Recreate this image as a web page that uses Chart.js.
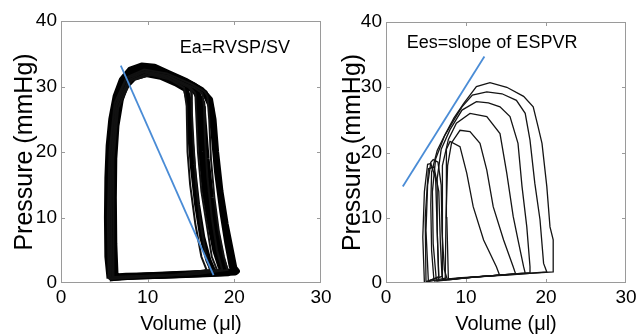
<!DOCTYPE html>
<html><head><meta charset="utf-8">
<script src="https://cdn.jsdelivr.net/npm/chart.js@4"></script>
<style>
html,body{margin:0;padding:0;background:#fff;width:640px;height:336px;overflow:hidden}
#cl{position:absolute;left:0;top:0}
#cr{position:absolute;left:330px;top:0}
</style></head><body>
<canvas id="cl" width="340" height="336"></canvas>
<canvas id="cr" width="310" height="336"></canvas>
<script>
const xTickValues = [0, 10, 20, 30];
const yTickValues = [0, 10, 20, 30, 40];
const xTitle = 'Volume (μl)';
const yTitle = 'Pressure (mmHg)';
const leftNote = 'Ea=RVSP/SV';
const rightNote = 'Ees=slope of ESPVR';

// blue reference lines [volume, pressure]
const eaLine = [[6.9, 33.2], [17.6, 1.2]];
const espvrLine = [[2.1, 14.8], [12.3, 34.7]];

// left panel: overlapping PV cycles (thick band)
const leftCycle1 = [[5.6,0.7],[5.35,4],[5.3,10],[5.35,16],[5.5,21],[5.8,25],[6.3,28.5],[7.0,31],[8.0,32.6],[9.3,33.2],[10.8,33],[12.5,32],[14.5,30.8],[16.2,29.5],[17.2,28],[17.6,25],[17.9,20],[18.4,14],[19.0,9],[19.6,5],[20.0,2.3],[20.3,1.8],[18,1.6],[14,1.4],[10,1.2],[7,0.9],[5.6,0.7]];
const leftCycle2 = [[5.8,0.8],[5.6,5],[5.55,11],[5.6,17],[5.8,22],[6.1,26],[6.7,29.3],[7.5,31.3],[8.6,32.4],[10,32.8],[11.5,32.4],[13.5,31.3],[15.3,30.2],[16.6,29],[17.3,27],[17.6,23],[18,17],[18.6,11],[19.2,6],[19.7,2.5],[20.1,1.6],[17,1.4],[13,1.2],[9,1.0],[5.8,0.8]];
const leftCycle3 = [[6.0,0.8],[5.8,6],[5.75,12],[5.8,18],[6.0,23],[6.4,27],[7.0,29.8],[8.0,31.5],[9.3,32.2],[10.8,32.1],[12.5,31.3],[14.3,30.2],[15.6,29.2],[16.3,27.5],[16.5,24],[16.8,19],[17.3,13],[17.9,8],[18.5,4],[19,2],[19.3,1.5],[16,1.3],[12,1.1],[8.5,1.0],[6.0,0.8]];
const leftCycle4 = [[6.2,0.9],[6.0,5],[5.95,12],[6.0,18],[6.2,23],[6.6,27],[7.3,29.8],[8.4,31.3],[9.8,31.9],[11.5,31.5],[13.2,30.5],[14.4,29.6],[14.8,27.5],[14.9,23],[15.2,18],[15.7,12],[16.3,7],[17,3.5],[17.5,2],[17.8,1.6],[14,1.3],[10,1.1],[6.2,0.9]];
const leftCycle5 = [[6.3,1.0],[6.15,6],[6.1,13],[6.15,19],[6.4,24],[6.9,28],[7.6,30.6],[8.7,32],[10.2,32.5],[12,32],[14,30.9],[15.2,30],[15.8,28.5],[16,25],[16.2,20],[16.6,14],[17.2,9],[17.8,5],[18.4,2.5],[18.8,1.7],[15,1.4],[11,1.2],[7.5,1.1],[6.3,1.0]];
const leftCycle6 = [[5.5,0.6],[5.4,10],[5.6,20],[6.2,27.5],[7.5,31.2],[9.5,32.2],[12,31.5],[14.2,29.8],[14.5,27],[14.6,20],[14.9,15],[15.5,9],[16.2,4],[16.8,2],[13,1.2],[5.5,0.6]];
const leftCycle7 = [[5.7,0.8],[5.6,9],[5.8,19],[6.4,27],[7.8,31],[9.8,32.3],[12.4,31.6],[14.8,30],[15.5,29],[15.6,26],[15.8,20],[16.2,14],[16.8,9],[17.4,4],[18,2],[14,1.3],[5.7,0.8]];
const leftCycle8 = [[5.9,0.9],[5.8,8],[5.9,18],[6.5,26.5],[7.9,30.8],[10,32],[12.8,31.3],[15.4,29.8],[16.3,29],[16.5,27],[16.6,22],[16.9,16],[17.4,10],[18,5],[18.6,2],[15,1.3],[5.9,0.9]];
const leftCycle9 = [[5.6,0.7],[5.5,10],[5.7,20],[6.3,27],[7.6,31.4],[9.6,32.6],[12.2,32],[15,30.4],[16.6,29.2],[16.9,28.5],[17.1,25],[17.3,19],[17.7,13],[18.2,8],[18.8,4],[19.2,2],[16,1.4],[5.6,0.7]];
const leftCycle10 = [[6.1,0.9],[6.0,9],[6.1,19],[6.6,26.8],[8.1,30.9],[10.4,31.8],[13,30.9],[14.7,29.9],[15,29.5],[15.1,26],[15.3,21],[15.6,15],[16.1,9],[16.7,4.5],[17.2,2],[14,1.3],[6.1,0.9]];

// right panel: family of PV loops during preload reduction
const rightLoop1 = [[6.0,0.3],[5.7,5],[5.6,12],[5.7,17],[6.4,20.3],[7.4,22.8],[8.5,25.3],[9.7,27.5],[11.3,30.1],[13,30.7],[15.1,30],[17.2,28.6],[18.4,27],[19,24],[19.5,21.4],[20.1,14.8],[20.5,8.6],[20.9,6.6],[20.9,2],[20.9,1.7],[17,1.4],[12,1.0],[8,0.6],[6.0,0.3]];
const rightLoop2 = [[6.3,0.3],[5.9,6],[5.8,14],[6.2,19],[7.3,22.5],[8.5,25],[9.5,27],[10.8,28.8],[12.6,29.3],[14.5,29],[16.3,28],[17.4,26],[18,21.9],[18.6,15.3],[19.25,9.7],[19.7,3],[20.1,1.7],[16,1.3],[11,0.9],[6.3,0.3]];
const rightLoop3 = [[6.6,0.4],[6.4,8],[6.4,16],[6.9,20.5],[8,23.5],[9.5,26.5],[11.3,27.8],[12.8,27.6],[14.25,27],[15.5,25.5],[16.5,21.4],[17,14.8],[17.6,8.6],[18,2.5],[18,1.6],[14,1.2],[10,0.8],[6.6,0.4]];
const rightLoop4 = [[7.0,0.5],[7.0,10],[7.1,18],[7.8,22],[8.8,24.5],[10.5,26],[12.6,25.5],[14.25,22.9],[15.1,16.8],[15.9,10.2],[16.5,6.6],[17.2,2.5],[17.4,1.5],[13,1.1],[9,0.8],[7.0,0.5]];
const rightLoop5 = [[7.4,0.5],[7.5,10],[7.7,18],[8.2,21.5],[9.25,23.4],[10.5,23.2],[11.75,21.4],[12.6,17.3],[13.4,11.7],[14.7,6.6],[15.9,2.5],[16.2,1.4],[12,1.0],[9,0.7],[7.4,0.5]];
const rightLoop6 = [[7.8,0.5],[7.6,10],[7.5,17],[7.6,20.5],[8,21.7],[9.25,20.9],[10.1,16.8],[10.9,11.7],[12.2,6.6],[13.8,2.5],[14.2,1.2],[10,0.8],[7.8,0.5]];
const rightLoop7 = [[5.3,0.2],[5.0,8],[5.2,15],[5.6,18.5],[5.9,18.9],[6.5,18.5],[6.9,15],[7.0,8],[7.3,2],[7.6,0.8],[6.5,0.5],[5.3,0.2]];
const rightLoop8 = [[4.8,0.0],[4.6,7],[4.8,14],[5.2,18.2],[5.6,18.3],[6.2,16],[6.4,8],[6.6,1],[5.5,0.4],[4.8,0.0]];
const rightLoop9 = [[5.0,0.2],[4.9,10],[5.3,17.5],[6.0,17.8],[6.6,14],[6.8,6],[7.0,1],[5.0,0.2]];

const leftThick = [leftCycle1, leftCycle2, leftCycle3, leftCycle4, leftCycle5];
const leftThin = [leftCycle6, leftCycle7, leftCycle8, leftCycle9, leftCycle10];
const rightLoops = [rightLoop1, rightLoop2, rightLoop3, rightLoop4, rightLoop5, rightLoop6, rightLoop7, rightLoop8, rightLoop9];

const FONT = '"Liberation Sans", Arial, Helvetica, sans-serif';
const toPts = arr => arr.map(p => ({x: p[0], y: p[1]}));

const framePlugin = {
  id: 'frame',
  afterDraw(chart, args, opts) {
    const {ctx, chartArea: a, scales: {x, y}} = chart;
    ctx.save();
    ctx.strokeStyle = '#9a9a9a';
    ctx.lineWidth = 1;
    ctx.strokeRect(Math.round(a.left) + 0.5, Math.round(a.top) + 0.5, Math.round(a.right - a.left) - 1, Math.round(a.bottom - a.top) - 1);
    const L = 4;
    ctx.beginPath();
    xTickValues.forEach(v => {
      if (v <= x.min || v >= x.max) return;
      const px = Math.round(x.getPixelForValue(v)) + 0.5;
      ctx.moveTo(px, a.bottom); ctx.lineTo(px, a.bottom - L);
      ctx.moveTo(px, a.top); ctx.lineTo(px, a.top + L);
    });
    yTickValues.forEach(v => {
      if (v <= y.min || v >= y.max) return;
      const py = Math.round(y.getPixelForValue(v)) + 0.5;
      ctx.moveTo(a.left, py); ctx.lineTo(a.left + L, py);
      ctx.moveTo(a.right, py); ctx.lineTo(a.right - L, py);
    });
    ctx.stroke();
    ctx.fillStyle = '#000';
    ctx.font = '18px ' + FONT;
    ctx.textBaseline = 'middle';
    ctx.textAlign = 'left';
    ctx.fillText(opts.text, x.getPixelForValue(opts.x), y.getPixelForValue(opts.y));
    ctx.restore();
  }
};

function makeChart(id, datasets, yWidth, padTop, padRight, titlePad, note) {
  return new Chart(document.getElementById(id), {
    type: 'scatter',
    data: {datasets},
    options: {
      responsive: false,
      animation: false,
      devicePixelRatio: 1,
      layout: {padding: {top: padTop, right: padRight, left: 0, bottom: 0}},
      plugins: {legend: {display: false}, tooltip: {enabled: false}, frame: note},
      elements: {point: {radius: 0}},
      scales: {
        x: {
          type: 'linear', min: 0, max: 30,
          grid: {display: false, drawTicks: false},
          border: {display: false},
          ticks: {stepSize: 10, padding: 3, maxRotation: 0, autoSkip: false, color: '#000', font: {family: FONT, size: 19}},
          title: {display: true, text: xTitle, color: '#000', font: {family: FONT, size: 20}, padding: {top: 0, bottom: 0}},
          afterFit: s => { s.height = 53; }
        },
        y: {
          type: 'linear', min: 0, max: 40,
          grid: {display: false, drawTicks: false},
          border: {display: false},
          ticks: {stepSize: 10, padding: 4, color: '#000', font: {family: FONT, size: 19}},
          title: {display: true, text: yTitle, color: '#000', font: {family: FONT, size: 25}, padding: {top: titlePad, bottom: 0}},
          afterFit: s => { s.width = yWidth; }
        }
      }
    },
    plugins: [framePlugin]
  });
}

const blue = 'rgb(74,140,214)';
const leftSets = [
  {data: toPts(eaLine), showLine: true, borderColor: blue, borderWidth: 1.8, order: 0}
].concat(leftThick.map(c => ({data: toPts(c), showLine: true, borderColor: '#000', borderWidth: 6, order: 2, borderJoinStyle: 'round'})))
 .concat(leftThin.map(c => ({data: toPts(c), showLine: true, borderColor: '#111', borderWidth: 2, order: 1})));

const rightSets = [
  {data: toPts(espvrLine), showLine: true, borderColor: blue, borderWidth: 1.8, order: 0}
].concat(rightLoops.map(c => ({data: toPts(c), showLine: true, borderColor: '#141414', borderWidth: 1.3, order: 1})));

makeChart('cl', leftSets, 61, 21, 19, 10, {text: leftNote, x: 13.7, y: 35.9});
makeChart('cr', rightSets, 56, 22, 14, 8, {text: rightNote, x: 2.6, y: 36.8});
</script>
</body></html>
